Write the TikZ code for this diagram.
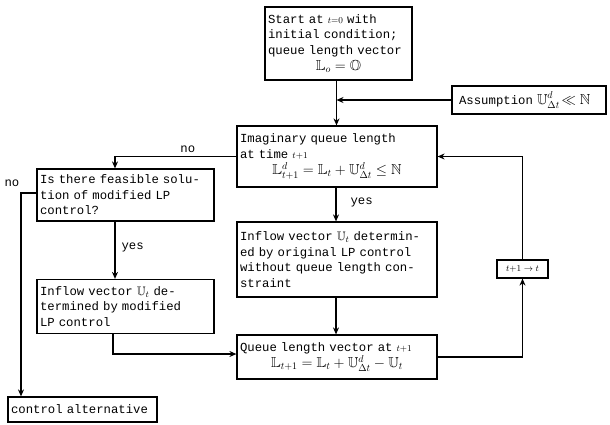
\documentclass[tikz,border=0pt]{standalone}
\usepackage{amssymb}
\usepackage{fontspec}
\setmonofont{Liberation Mono}
\usetikzlibrary{arrows.meta}
\tikzset{
  box/.style={draw, line width=1.2pt, inner sep=3pt, align=left, font=\ttfamily\fontsize{12.3}{15.5}\selectfont, anchor=center},
  conn/.style={line width=1.2pt},
  arr/.style={conn, -{Stealth[length=7pt,width=6pt]}},
  lbl/.style={font=\ttfamily\fontsize{12.3}{14}\selectfont, inner sep=0pt}
}
\newcommand{\tm}[1]{{\fontsize{9}{10}\selectfont$#1$}}
\newcommand{\fm}[1]{{\fontsize{14.5}{16}\selectfont$#1$}}
\begin{document}
\begin{tikzpicture}[x=1pt,y=-1pt]
\useasboundingbox (0,0) rectangle (610,424);
\node[box, minimum width=147pt, minimum height=73pt, text width=141pt] (start) at (338.5,43.5)
 {Start at \tm{t{=}0} with\\initial condition;\\queue length vector\\[1pt]\centerline{\fm{\mathbb{L}_o = \mathbb{O}}}};
\node[box, minimum width=154pt, minimum height=28pt, text width=148pt] (assum) at (529,100)
 {\ Assumption \fm{\mathbb{U}^{d}_{\Delta t}\!\ll\mathbb{N}}};
\node[box, minimum width=200pt, minimum height=61pt, text width=194pt] (imag) at (337,156.5)
 {Imaginary queue length\\at time \tm{t{+}1}\\[1pt]\centerline{\fm{\mathbb{L}^{d}_{t+1}=\mathbb{L}_t+\mathbb{U}^{d}_{\Delta t}\leq\mathbb{N}}}};
\node[box, minimum width=177pt, minimum height=52pt, text width=171pt] (isthere) at (125.5,195)
 {Is there feasible solu-\\tion of modified LP\\control?};
\node[box, minimum width=200pt, minimum height=75pt, text width=194pt] (orig) at (337,259.5)
 {Inflow vector $\mathbb{U}_t$ determin-\\ed by original LP control\\without queue length con-\\straint};
\node[box, minimum width=177pt, minimum height=54pt, text width=171pt] (modif) at (125.5,306.5)
 {Inflow vector $\mathbb{U}_t$ de-\\termined by modified\\LP control};
\node[box, minimum width=200pt, minimum height=44pt, text width=194pt] (queue) at (337,357)
 {Queue length vector at \tm{t{+}1}\\\centerline{\fm{\mathbb{L}_{t+1}=\mathbb{L}_t+\mathbb{U}^{d}_{\Delta t}-\mathbb{U}_t}}};
\node[box, minimum width=51pt, minimum height=18pt, inner sep=1pt, align=center] (tt) at (522.5,269)
 {\tm{t{+}1\rightarrow t}};
\node[box, minimum width=149pt, minimum height=25pt, text width=143pt] (ctrl) at (82.5,409.5)
 {control alternative};
% connectors
\draw[arr] ([xshift=-2pt]start.south) -- ([xshift=-2pt]start.south |- imag.north);
\draw[arr] (assum.west) -- ([xshift=-2pt]assum.west -| start.south);
\draw[arr] (imag.west) -| ([xshift=-10.5pt]isthere.north) node[lbl, pos=0.2, above=3pt] {no};
\draw[arr] ([xshift=-1pt]imag.south) -- ([xshift=-1pt]imag.south |- orig.north) node[lbl, pos=0.45, right=14pt] {yes};
\draw[arr] ([yshift=2pt]isthere.west) -| ([xshift=-61.5pt]ctrl.north);
\node[lbl] (nolbl) at (12,183) {no};
\draw[arr] ([xshift=-10.5pt]isthere.south) -- ([xshift=-10.5pt]isthere.south |- modif.north) node[lbl, pos=0.45, right=6pt] {yes};
\draw[arr] ([xshift=-12.5pt]modif.south) |- ([yshift=3pt]queue.west);
\draw[arr] ([xshift=-1pt]orig.south) -- ([xshift=-1pt]orig.south |- queue.north);
\draw[arr] (queue.east) -| (tt.south);
\draw[arr] (tt.north) |- (imag.east);
\end{tikzpicture}
\end{document}
